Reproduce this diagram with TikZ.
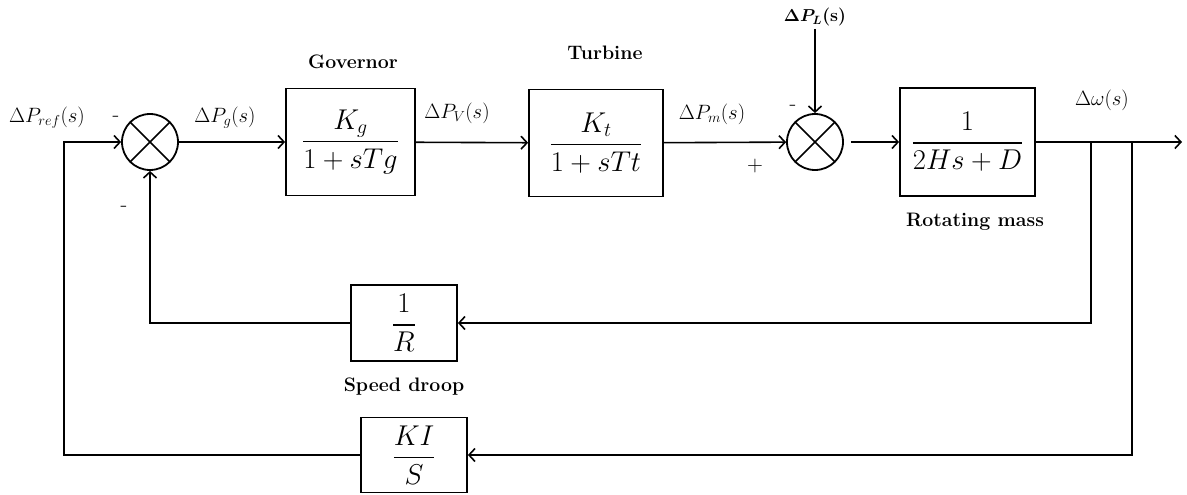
\documentclass[tikz,border=0pt]{standalone}
\usepackage{amsmath}
\usepackage{graphicx}
\usetikzlibrary{arrows.meta}
\newcommand{\bigfrac}[2]{\scalebox{1.15}{$\dfrac{#1}{#2}$}}
\begin{document}
\begin{tikzpicture}[x=1pt,y=-1pt,line width=1.6pt,
  blk/.style={draw,line width=1.8pt,inner sep=0pt,font=\fontsize{25}{30}\selectfont},
  sumj/.style={draw,circle,minimum size=56pt,inner sep=0pt,line width=1.8pt,
    path picture={\draw[line width=1.6pt] (path picture bounding box.north west) -- (path picture bounding box.south east)
      (path picture bounding box.north east) -- (path picture bounding box.south west);}},
  arr/.style={-{Straight Barb[length=6pt,width=13pt,line width=1.6pt]}},
  lbl/.style={font=\fontsize{20}{24}\selectfont,inner sep=0pt},
  sgn/.style={font=\fontsize{22}{24}\selectfont,inner sep=0pt},
  ttl/.style={font=\fontsize{19.5}{23}\selectfont\bfseries,inner sep=0pt}]
\useasboundingbox (0,0) rectangle (1187,495);
% blocks
\node[sumj] (s1) at (150,142) {};
\node[blk,minimum width=129pt,minimum height=107pt] (gov) at (350.5,142) {\bigfrac{K_g}{1+sTg}};
\node[blk,minimum width=134pt,minimum height=107pt] (tur) at (596,143) {\bigfrac{K_t}{1+sTt}};
\node[sumj] (s2) at (815,142) {};
\node[blk,minimum width=135pt,minimum height=108pt] (mass) at (967.5,142) {\bigfrac{1}{2Hs+D}};
\node[blk,minimum width=106pt,minimum height=76pt] (rbox) at (404,323) {\bigfrac{1}{R}};
\node[blk,minimum width=106pt,minimum height=75pt] (kbox) at (414,455) {\bigfrac{KI}{S}};
% coordinates
\coordinate (in) at (64,142);
\coordinate (b1) at (1091,142);
\coordinate (b2) at (1132,142);
\coordinate (out) at (1182,142);
\coordinate (pl) at (815,29);
% connectors
\draw[arr] (kbox.west) -| (in) -- (s1);
\draw[arr] (s1) -- (gov);
\draw[arr] (gov) -- (tur);
\draw[arr] (tur) -- (s2);
\draw[arr,shorten <=7pt] (s2) -- (mass);
\draw[arr] (mass) -- (out);
\draw[arr] (b1) |- (rbox);
\draw[arr] (rbox) -| (s1);
\draw[arr] (b2) |- (kbox);
\draw[arr] (pl) -- (s2);
% labels
\node[lbl] (lref) at (47,118) {$\Delta P_{ref}(s)$};
\node[sgn] (m1) at (116,119) {-};
\node[lbl] (lg) at (225,118) {$\Delta P_g(s)$};
\node[sgn] (m2) at (124,209) {-};
\node[lbl] (lv) at (457,113) {$\Delta P_V(s)$};
\node[lbl] (lm) at (712,114) {$\Delta P_m(s)$};
\node[sgn] (m3) at (793,108) {-};
\node[sgn] (p1) at (755,166) {+};
\node[lbl,font=\fontsize{18}{21}\selectfont] (ll) at (815,17) {{\boldmath$\Delta P_L$}\textbf{(s)}};
\node[lbl] (lw) at (1102,100) {$\Delta\omega(s)$};
\node[ttl] (tg) at (353,62) {Governor};
\node[ttl] (tt) at (605,53) {Turbine};
\node[ttl] (tm) at (975,222) {Rotating mass};
\node[ttl] (ts) at (404,387) {Speed droop};
\end{tikzpicture}
\end{document}
